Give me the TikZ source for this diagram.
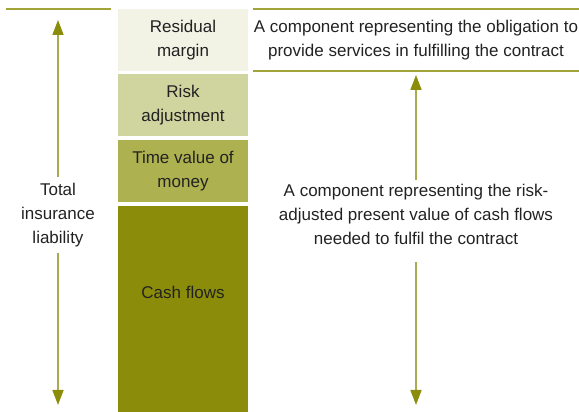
\documentclass[tikz,border=0pt]{standalone}
\usepackage{fontspec}
\setmainfont{Liberation Sans}
\usetikzlibrary{arrows.meta}
\usetikzlibrary{positioning}

\definecolor{marginfill}{HTML}{F2F2E5}
\definecolor{riskfill}{HTML}{D0D49F}
\definecolor{timefill}{HTML}{AEB14F}
\definecolor{cashfill}{HTML}{8B8D0A}
\definecolor{ruleolive}{HTML}{A2A437}
\definecolor{arrowolive}{HTML}{A9AB52}
\definecolor{textgray}{HTML}{222222}

\tikzset{
  every node/.style={font=\fontsize{17}{24}\selectfont, text=textgray},
  layer/.style={minimum width=130pt, minimum height=62pt, inner sep=0pt, align=center},
  rule/.style={draw=ruleolive, line width=2pt},
  pointer/.style={draw=arrowolive, line width=1.6pt,
    -{Triangle[length=15pt,width=11pt,color=cashfill]}},
}

\begin{document}
\begin{tikzpicture}[x=1pt,y=1pt]
  \useasboundingbox (0,0) rectangle (579,412);

  % the four layers
  \node[layer, fill=marginfill] (margin) at (183,372) {Residual\\margin};
  \node[layer, fill=riskfill, below=3pt of margin] (risk) {Risk\\adjustment};
  \node[layer, fill=timefill, below=3pt of risk] (time) {Time value of\\money};
  \node[layer, fill=cashfill, below=4pt of time, minimum height=207pt] (cash) {};
  \node (cashtext) at ([yshift=17pt]cash.center) {Cash flows};

  % rules
  \draw[rule] (6,403) -- (111,403);
  \draw[rule] (253,403) -- (579,403);
  \draw[rule] (253,341) -- (579,341);

  % left side
  \node[align=center] (total) at (58,197) {Total\\insurance\\liability};
  \coordinate (totaltop) at (58,392);
  \coordinate (totalbottom) at (58,7);
  \draw[pointer] ([yshift=3pt]total.north) -- (totaltop);
  \draw[pointer] ([yshift=-3pt]total.south) -- (totalbottom);

  % right side
  \node[align=center] (obligation) at (416,372)
    {A component representing the obligation to\\provide services in fulfilling the contract};
  \node[align=center] (fulfil) at (416,198)
    {A component representing the risk-\\adjusted present value of cash flows\\needed to fulfil the contract};
  \coordinate (fulfiltop) at (416,337);
  \coordinate (fulfilbottom) at (416,7);
  \draw[pointer] (fulfil.north) -- (fulfiltop);
  \draw[pointer] ([yshift=-14pt]fulfil.south) -- (fulfilbottom);
\end{tikzpicture}
\end{document}
